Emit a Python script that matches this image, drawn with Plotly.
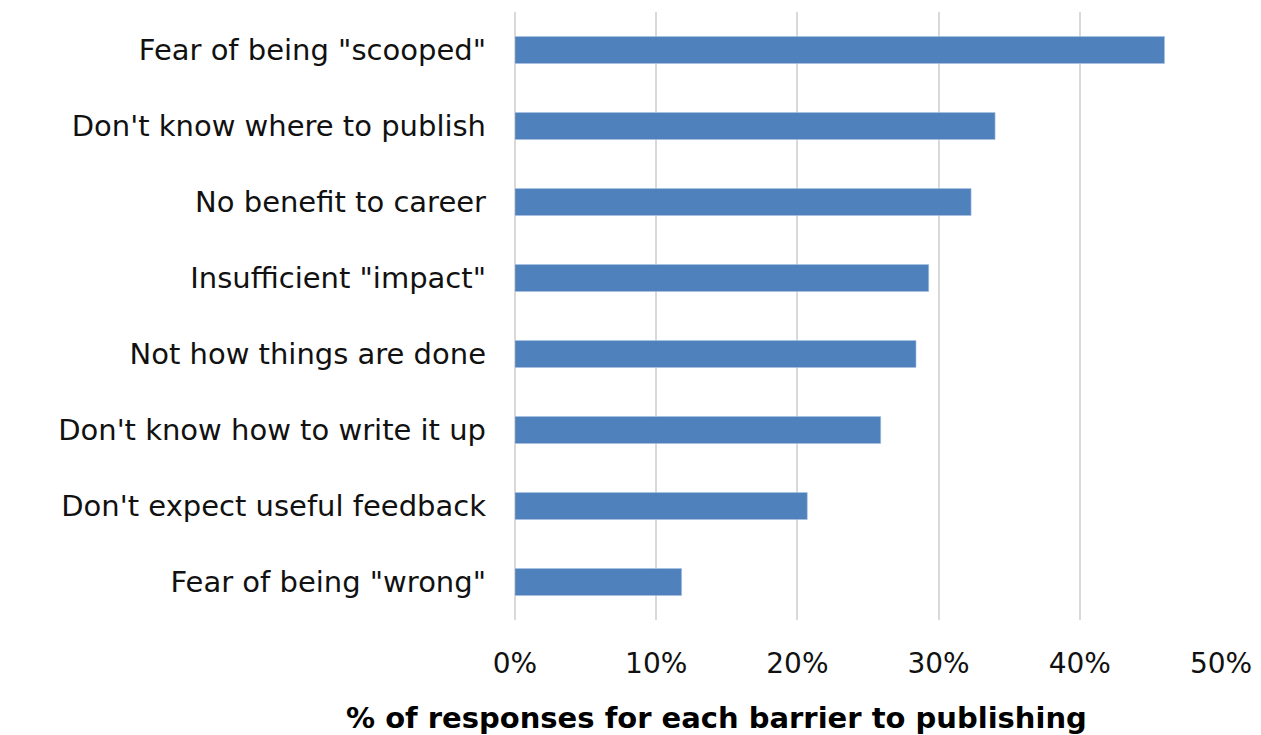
import plotly.graph_objects as go

barriers = [
    'Fear of being "scooped"',
    "Don't know where to publish",
    "No benefit to career",
    'Insufficient "impact"',
    "Not how things are done",
    "Don't know how to write it up",
    "Don't expect useful feedback",
    'Fear of being "wrong"',
]
share_pct = [46.0, 34.0, 32.3, 29.3, 28.4, 25.9, 20.7, 11.8]
tick_vals = [0, 10, 20, 30, 40, 50]
tick_text = ["0%", "10%", "20%", "30%", "40%", "50%"]

FONT = "DejaVu Sans"

fig = go.Figure(
    go.Bar(
        x=share_pct,
        y=barriers,
        orientation="h",
        width=0.355,
        marker=dict(color="#4F81BD", line=dict(color="#A9C1E0", width=0.6)),
        hoverinfo="x+y",
    )
)

fig.update_layout(
    width=1261,
    height=735,
    margin=dict(l=515, r=40, t=12, b=115),
    paper_bgcolor="white",
    plot_bgcolor="white",
    showlegend=False,
    font=dict(family=FONT, size=29, color="#111111"),
    xaxis=dict(
        range=[0, 50],
        tickvals=tick_vals,
        ticktext=tick_text,
        showgrid=True,
        gridcolor="#D9D9D9",
        gridwidth=2,
        zeroline=True,
        zerolinecolor="#D9D9D9",
        zerolinewidth=2,
        showline=False,
        ticks="",
        ticklabelstandoff=24,
        tickfont=dict(family=FONT, size=28, color="#111111"),
        automargin=False,
        fixedrange=True,
    ),
    yaxis=dict(
        autorange="reversed",
        showgrid=False,
        showline=False,
        ticks="",
        ticklabelstandoff=28,
        tickfont=dict(family=FONT, size=29, color="#111111"),
        automargin=False,
        fixedrange=True,
    ),
    annotations=[
        dict(
            text="<b>% of responses for each barrier to publishing</b>",
            xref="paper",
            yref="paper",
            x=(716 - 515) / (1221 - 515),
            y=-(718 - 620) / (620 - 12),
            xanchor="center",
            yanchor="middle",
            showarrow=False,
            font=dict(family=FONT, size=29, color="#000000"),
        )
    ],
)

fig.write_html("out.html")
